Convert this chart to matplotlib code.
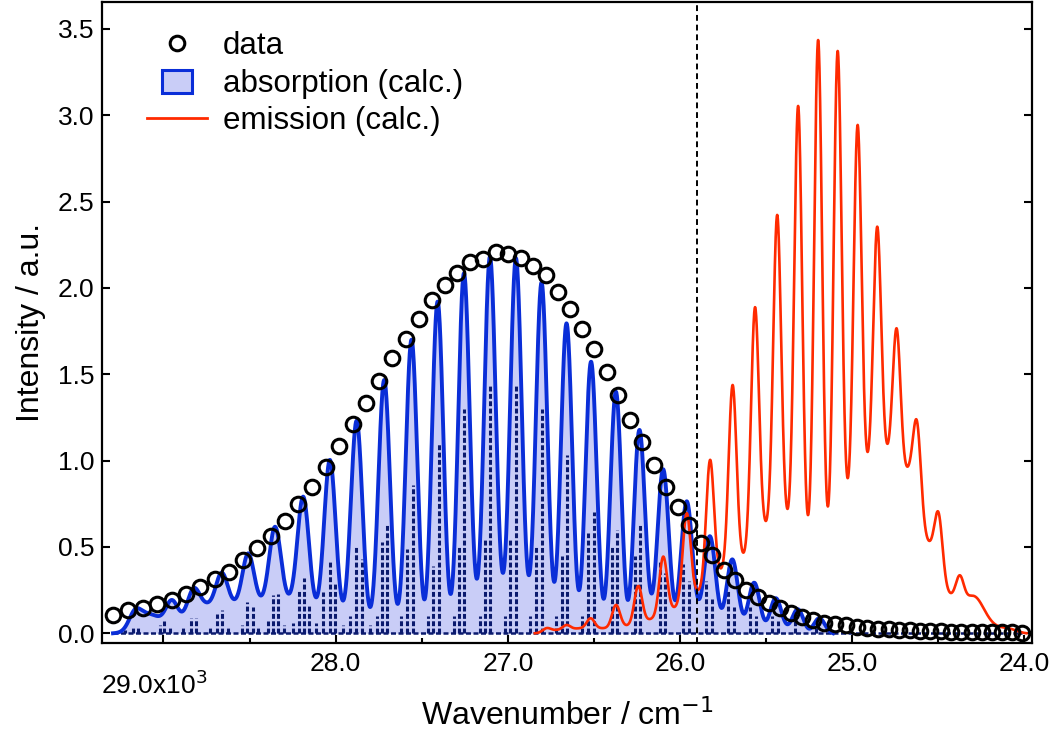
import numpy as np
import matplotlib
matplotlib.use("Agg")
import matplotlib.pyplot as plt
from matplotlib.lines import Line2D
from matplotlib.patches import Rectangle
from matplotlib.legend_handler import HandlerPatch
from matplotlib.ticker import MultipleLocator

plt.rcParams['font.family'] = ['Liberation Sans', 'DejaVu Sans']

# measured spectrum: wavelength (nm) and intensity
wavelength = [341.4, 342.4, 343.4, 344.4, 345.4, 346.4, 347.4, 348.4, 349.4, 350.4,
              351.4, 352.4, 353.4, 354.4, 355.4, 356.4, 357.4, 358.4, 359.4, 360.4,
              361.4, 362.4, 363.4, 364.4, 365.4, 366.4, 367.4, 368.4, 369.4, 370.4,
              371.4, 372.4, 373.4, 374.4, 375.4, 376.4, 377.4, 378.4, 379.4, 380.4,
              381.4, 382.4, 383.4, 384.4, 385.4, 386.4, 387.4, 388.4, 389.4, 390.4,
              391.4, 392.4, 393.4, 394.4, 395.4, 396.4, 397.4, 398.4, 399.4, 400.4,
              401.4, 402.4, 403.4, 404.4, 405.4, 406.4, 407.4, 408.4, 409.4, 410.4,
              411.4, 412.4, 413.4, 414.4, 415.4, 416.4]
intensity = [0.106, 0.135, 0.148, 0.170, 0.193, 0.226, 0.270, 0.313, 0.357, 0.425,
             0.492, 0.565, 0.649, 0.749, 0.849, 0.965, 1.087, 1.210, 1.332, 1.461,
             1.595, 1.702, 1.819, 1.930, 2.017, 2.088, 2.149, 2.170, 2.207, 2.197,
             2.175, 2.129, 2.075, 1.977, 1.880, 1.764, 1.648, 1.512, 1.382, 1.235,
             1.110, 0.975, 0.849, 0.733, 0.627, 0.523, 0.453, 0.367, 0.309, 0.251,
             0.212, 0.174, 0.145, 0.116, 0.096, 0.077, 0.061, 0.052, 0.045, 0.038,
             0.032, 0.027, 0.023, 0.020, 0.017, 0.015, 0.013, 0.011, 0.010, 0.009,
             0.008, 0.007, 0.006, 0.005, 0.005, 0.004]

# calculated absorption (x in 10^3 cm^-1): band maxima and minima
abs_peak_x = [29.166, 28.952, 28.827, 28.662, 28.508, 28.352, 28.188, 28.033, 27.878, 27.718,
              27.559, 27.408, 27.255, 27.104, 26.953, 26.804, 26.659, 26.517, 26.372, 26.237,
              26.098, 25.962, 25.826, 25.697, 25.569, 25.445, 25.315, 25.193]
abs_peak_y = [0.139, 0.193, 0.260, 0.351, 0.463, 0.617, 0.791, 1.004, 1.231, 1.467,
              1.700, 1.921, 2.085, 2.181, 2.172, 2.031, 1.795, 1.573, 1.399, 1.177,
              0.950, 0.764, 0.562, 0.428, 0.293, 0.203, 0.139, 0.087]
abs_dip_x = [29.293, 29.088, 28.916, 28.759, 28.595, 28.430, 28.275, 28.110, 27.956, 27.797,
             27.640, 27.481, 27.326, 27.178, 27.030, 26.882, 26.736, 26.591, 26.446, 26.310,
             26.165, 26.030, 25.894, 25.768, 25.633, 25.507, 25.381, 25.256, 25.112]
abs_dip_y = [0.0, 0.116, 0.147, 0.183, 0.200, 0.220, 0.230, 0.210, 0.190, 0.154,
             0.170, 0.203, 0.250, 0.318, 0.351, 0.347, 0.318, 0.260, 0.203, 0.220,
             0.230, 0.193, 0.200, 0.164, 0.116, 0.077, 0.054, 0.029, 0.0]

# calculated emission
emi_peak_x = [26.775, 26.659, 26.519, 26.372, 26.243, 26.098, 25.962, 25.826, 25.695, 25.565,
              25.436, 25.314, 25.198, 25.085, 24.969, 24.855, 24.742, 24.623, 24.498, 24.375]
emi_peak_y = [0.030, 0.048, 0.087, 0.164, 0.274, 0.444, 0.695, 1.004, 1.438, 1.888,
              2.423, 3.054, 3.436, 3.372, 2.944, 2.355, 1.766, 1.225, 0.698, 0.336]
emi_dip_x = [26.843, 26.717, 26.581, 26.446, 26.310, 26.165, 26.030, 25.898, 25.763, 25.633,
             25.507, 25.381, 25.256, 25.139, 25.025, 24.906, 24.791, 24.668, 24.543, 24.419,
             24.296, 24.217, 24.098, 23.988]
emi_dip_y = [0.0, 0.020, 0.030, 0.030, 0.048, 0.087, 0.154, 0.251, 0.376, 0.467,
             0.660, 0.737, 0.685, 0.743, 0.900, 1.067, 1.107, 0.988, 0.543, 0.237,
             0.217, 0.109, 0.030, 0.0]

# stick spectrum (transitions)
stick_x = [29.224, 29.177, 29.148, 29.020, 28.997, 28.962, 28.887, 28.842, 28.811, 28.730,
           28.691, 28.662, 28.625, 28.544, 28.517, 28.482, 28.451, 28.395, 28.366, 28.333,
           28.300, 28.246, 28.213, 28.184, 28.153, 28.114, 28.072, 28.033, 28.004, 27.958,
           27.917, 27.882, 27.849, 27.801, 27.762, 27.733, 27.704, 27.621, 27.584, 27.549,
           27.464, 27.433, 27.398, 27.313, 27.282, 27.255, 27.162, 27.133, 27.104, 27.017,
           26.988, 26.953, 26.872, 26.837, 26.804, 26.721, 26.684, 26.655, 26.570, 26.533,
           26.498, 26.396, 26.366, 26.262, 26.233, 26.117, 26.088, 25.983, 25.948, 25.850,
           25.815, 25.722, 25.687, 25.594, 25.559, 25.466, 25.432, 25.333, 25.211]
stick_y = [0.020, 0.035, 0.040, 0.050, 0.070, 0.030, 0.030, 0.090, 0.090, 0.030,
           0.110, 0.135, 0.040, 0.050, 0.180, 0.150, 0.040, 0.070, 0.220, 0.226,
           0.050, 0.060, 0.250, 0.320, 0.170, 0.060, 0.240, 0.415, 0.290, 0.050,
           0.100, 0.500, 0.430, 0.050, 0.100, 0.530, 0.630, 0.100, 0.490, 0.860,
           0.100, 0.390, 1.100, 0.100, 0.500, 1.300, 0.100, 0.550, 1.440, 0.100,
           0.550, 1.440, 0.100, 0.500, 1.300, 0.100, 0.450, 1.030, 0.100, 0.580,
           0.700, 0.500, 0.600, 0.450, 0.640, 0.410, 0.350, 0.400, 0.300, 0.300,
           0.200, 0.250, 0.150, 0.150, 0.100, 0.100, 0.070, 0.070, 0.040]

origin_x = 25.9
abs_range = (29.293, 25.112)
emi_range = (26.843, 23.988)
stick_range = (29.293, 24.016)


def band_shape(x, peak_x, peak_y, dip_x, dip_y, w_peak, w_dip):
    # gaussian bands through the read maxima/minima
    cx = np.array(peak_x + dip_x)
    w = np.array([w_peak] * len(peak_x) + [w_dip] * len(dip_x))
    basis = lambda t: np.exp(-0.5 * ((np.asarray(t)[:, None] - cx[None, :]) / w[None, :]) ** 2)
    amp = np.linalg.solve(basis(cx), np.array(peak_y + dip_y))
    return basis(x) @ amp


xa = np.linspace(abs_range[0], abs_range[1], 3000)
ya = band_shape(xa, abs_peak_x, abs_peak_y, abs_dip_x, abs_dip_y, 0.034, 0.07)
xe = np.linspace(emi_range[0], emi_range[1], 3000)
ye = band_shape(xe, emi_peak_x, emi_peak_y, emi_dip_x, emi_dip_y, 0.023, 0.055)
xd = 1e4 / np.array(wavelength)

fill_c = '#c9cdf7'
blue = '#0a2ed8'
navy = '#0b1a6e'
red = '#ff2a00'

fig = plt.figure(figsize=(10.55, 7.4), dpi=100)
ax = fig.add_axes([0.0970, 0.1307, 0.8812, 0.8670])

ax.fill_between(xa, 0, ya, color=fill_c, lw=0, zorder=1)
ax.vlines(stick_x, 0, stick_y, colors=navy, lw=2.2, linestyles=(0, (1.6, 0.8)), zorder=2)
ax.hlines(0, stick_range[0], stick_range[1], colors=navy, lw=1.8, linestyles=(0, (2, 1)), zorder=2)
ax.plot(xa, ya, color=blue, lw=2.8, zorder=3)
ax.plot(xe, ye, color=red, lw=1.9, zorder=4)
ax.axvline(origin_x, color='k', lw=1.4, ls=(0, (3, 2)), zorder=5)
ax.plot(xd, intensity, 'o', mfc='none', mec='k', ms=10.5, mew=2.2, zorder=6)

ax.set_xlim(29.355, 23.956)
ax.set_ylim(-0.058, 3.658)
ax.xaxis.set_minor_locator(MultipleLocator(0.5))
ax.yaxis.set_major_locator(MultipleLocator(0.5))
ax.set_xticks([29, 28, 27, 26, 25, 24])
ax.set_xticklabels(['', '28.0', '27.0', '26.0', '25.0', '24.0'])
ax.yaxis.set_major_formatter(matplotlib.ticker.FormatStrFormatter('%.1f'))
ax.tick_params(which='both', direction='in', width=1.5, labelsize=19, right=True, top=False)
ax.tick_params(which='major', length=6)
ax.tick_params(which='minor', length=3.5)
ax.tick_params(axis='x', pad=6)
ax.tick_params(axis='y', pad=6)
for s in ax.spines.values():
    s.set_linewidth(1.6)
ax.text(29.055, -0.042, '29.0x10$^{3}$', transform=ax.get_xaxis_transform(),
        ha='center', va='top', fontsize=19)

ax.set_xlabel('Wavenumber / cm$^{-1}$', fontsize=23, labelpad=17)
ax.set_ylabel('Intensity / a.u.', fontsize=23, labelpad=8)


def small_box(legend, orig_handle, xdescent, ydescent, width, height, fontsize):
    return Rectangle((width / 2 - 11 - xdescent, -ydescent - 1), 22, height * 1.05)


handles = [Line2D([], [], marker='o', ls='none', mfc='none', mec='k', ms=10.5, mew=2.2),
           Rectangle((0, 0), 1, 1, facecolor=fill_c, edgecolor=blue, lw=2.2),
           Line2D([], [], color=red, lw=2)]
labels = ['data', 'absorption (calc.)', 'emission (calc.)']
ax.legend(handles, labels, loc='upper left', bbox_to_anchor=(0.048, 0.954), frameon=False,
          fontsize=22.5, handlelength=1.92, handletextpad=0.5, labelspacing=0.24, borderpad=0,
          borderaxespad=0, handler_map={Rectangle: HandlerPatch(patch_func=small_box)})

fig.savefig('out.png', dpi=100)
